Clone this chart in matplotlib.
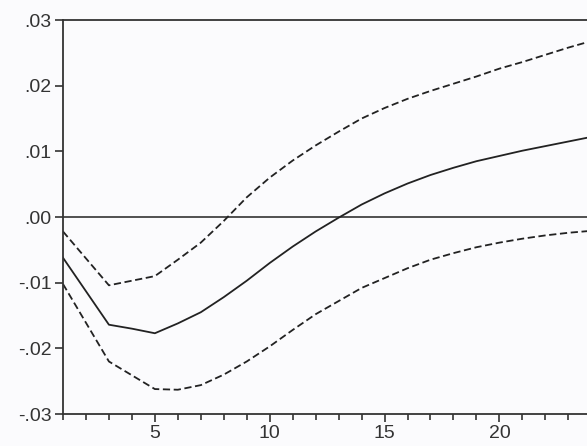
import matplotlib.pyplot as plt
import numpy as np

plt.rcParams['font.family'] = ['Liberation Sans', 'DejaVu Sans']

periods = np.arange(1, 25)
response = [-0.0062, -0.0113, -0.0164, -0.0170, -0.0177, -0.0162, -0.0145, -0.0122,
            -0.0097, -0.0070, -0.0045, -0.0022, -0.0001, 0.0019, 0.0036, 0.0051,
            0.0064, 0.0075, 0.0085, 0.0093, 0.0101, 0.0108, 0.0115, 0.0122]
upper = [-0.0022, -0.0063, -0.0104, -0.0097, -0.0090, -0.0065, -0.0039, -0.0006,
         0.0030, 0.0060, 0.0086, 0.0109, 0.0130, 0.0150, 0.0166, 0.0180,
         0.0192, 0.0203, 0.0214, 0.0226, 0.0236, 0.0247, 0.0258, 0.0268]
lower = [-0.0102, -0.0161, -0.0220, -0.0241, -0.0262, -0.0263, -0.0256, -0.0240,
         -0.0220, -0.0197, -0.0172, -0.0148, -0.0128, -0.0108, -0.0093, -0.0078,
         -0.0065, -0.0055, -0.0046, -0.0039, -0.0033, -0.0028, -0.0024, -0.0021]
yticks = [0.03, 0.02, 0.01, 0.00, -0.01, -0.02, -0.03]
ylabels = ['.03', '.02', '.01', '.00', '-.01', '-.02', '-.03']

dark = '#333333'
fig = plt.figure(figsize=(5.87, 4.46), dpi=100)
fig.patch.set_facecolor('#fbfbfd')
ax = fig.add_axes([0.1073, 0.0717, 0.9, 0.8834])
ax.set_facecolor('#fbfbfd')

ax.axhline(0, color=dark, lw=1.2)
ax.plot(periods, response, color='#222222', lw=1.3)
ax.plot(periods, upper, color='#222222', lw=1.3, ls=(0, (4, 2)))
ax.plot(periods, lower, color='#222222', lw=1.3, ls=(0, (4, 2)))

ax.set_xlim(1, 24)
ax.set_ylim(-0.03, 0.03)
ax.set_yticks(yticks)
ax.set_yticklabels(ylabels)
ax.set_xticks([5, 10, 15, 20])
ax.set_xticks(periods, minor=True)

for s in ['left', 'top', 'bottom', 'right']:
    ax.spines[s].set_color(dark)
    ax.spines[s].set_linewidth(1.3)

ax.tick_params(axis='both', which='major', direction='out', length=6, width=1.2,
               color=dark, labelcolor=dark, labelsize=14)
ax.tick_params(axis='x', which='minor', direction='out', length=4, width=1.2, color=dark)
ax.tick_params(axis='y', pad=2)
ax.tick_params(axis='x', pad=2)

fig.savefig('out.png', dpi=100, facecolor=fig.get_facecolor())
